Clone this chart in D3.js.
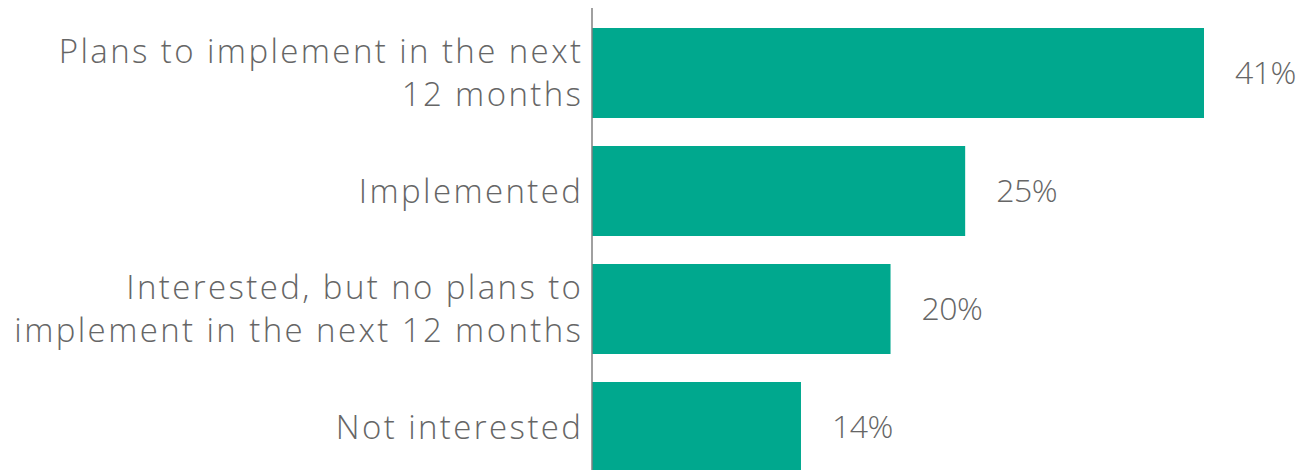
<!DOCTYPE html>
<html>
<head>
<meta charset="utf-8">
<script src="https://cdn.jsdelivr.net/npm/d3@7"></script>
<style>
  html, body { margin: 0; padding: 0; background: #ffffff; }
  svg { display: block; }
  text { font-family: "Open Sans", "Lato", sans-serif; font-weight: 300; fill: #666666; }
</style>
</head>
<body>
<script>
const categories = [
  "Plans to implement in the next 12 months",
  "Implemented",
  "Interested, but no plans to implement in the next 12 months",
  "Not interested"
];
const categoryLines = [
  ["Plans to implement in the next", "12 months"],
  ["Implemented"],
  ["Interested, but no plans to", "implement in the next 12 months"],
  ["Not interested"]
];
const values = [41, 25, 20, 14];
const valueLabels = ["41%", "25%", "20%", "14%"];

const W = 1305, H = 470;
const svg = d3.select("body").append("svg").attr("width", W).attr("height", H);

const x = d3.scaleLinear().domain([0, 41]).range([592, 1204]);
const y = d3.scaleBand().domain(categories).range([14, 486]).paddingInner(28 / 118).paddingOuter(14 / 118);

svg.selectAll("rect.bar").data(categories).enter().append("rect")
  .attr("class", "bar")
  .attr("x", x(0))
  .attr("y", d => y(d))
  .attr("width", (d, i) => x(values[i]) - x(0))
  .attr("height", y.bandwidth())
  .attr("fill", "#00A88E");

// axis line
svg.append("line")
  .attr("x1", x(0)).attr("x2", x(0))
  .attr("y1", 8).attr("y2", H)
  .attr("stroke", "#808080").attr("stroke-width", 1.5);

const fs = 33, lh = 43, ls = 2.4;
const lab = svg.selectAll("text.cat").data(categories).enter().append("text")
  .attr("class", "cat")
  .attr("text-anchor", "end")
  .style("font-size", fs + "px")
  .style("letter-spacing", ls + "px");
lab.each(function(d, i) {
  const lines = categoryLines[i];
  const cy = y(d) + y.bandwidth() / 2;
  const t = d3.select(this);
  lines.forEach((ln, k) => {
    t.append("tspan")
      .attr("x", x(0) - 11 + ls)
      .attr("y", cy + (k - (lines.length - 1) / 2) * lh)
      .attr("dy", "0.35em")
      .text(ln);
  });
});

svg.selectAll("text.val").data(categories).enter().append("text")
  .attr("class", "val")
  .attr("x", (d, i) => x(values[i]) + 31)
  .attr("y", d => y(d) + y.bandwidth() / 2)
  .attr("dy", "0.35em")
  .style("font-size", "32px")
  .style("letter-spacing", "-0.5px")
  .text((d, i) => valueLabels[i]);
</script>
</body>
</html>
